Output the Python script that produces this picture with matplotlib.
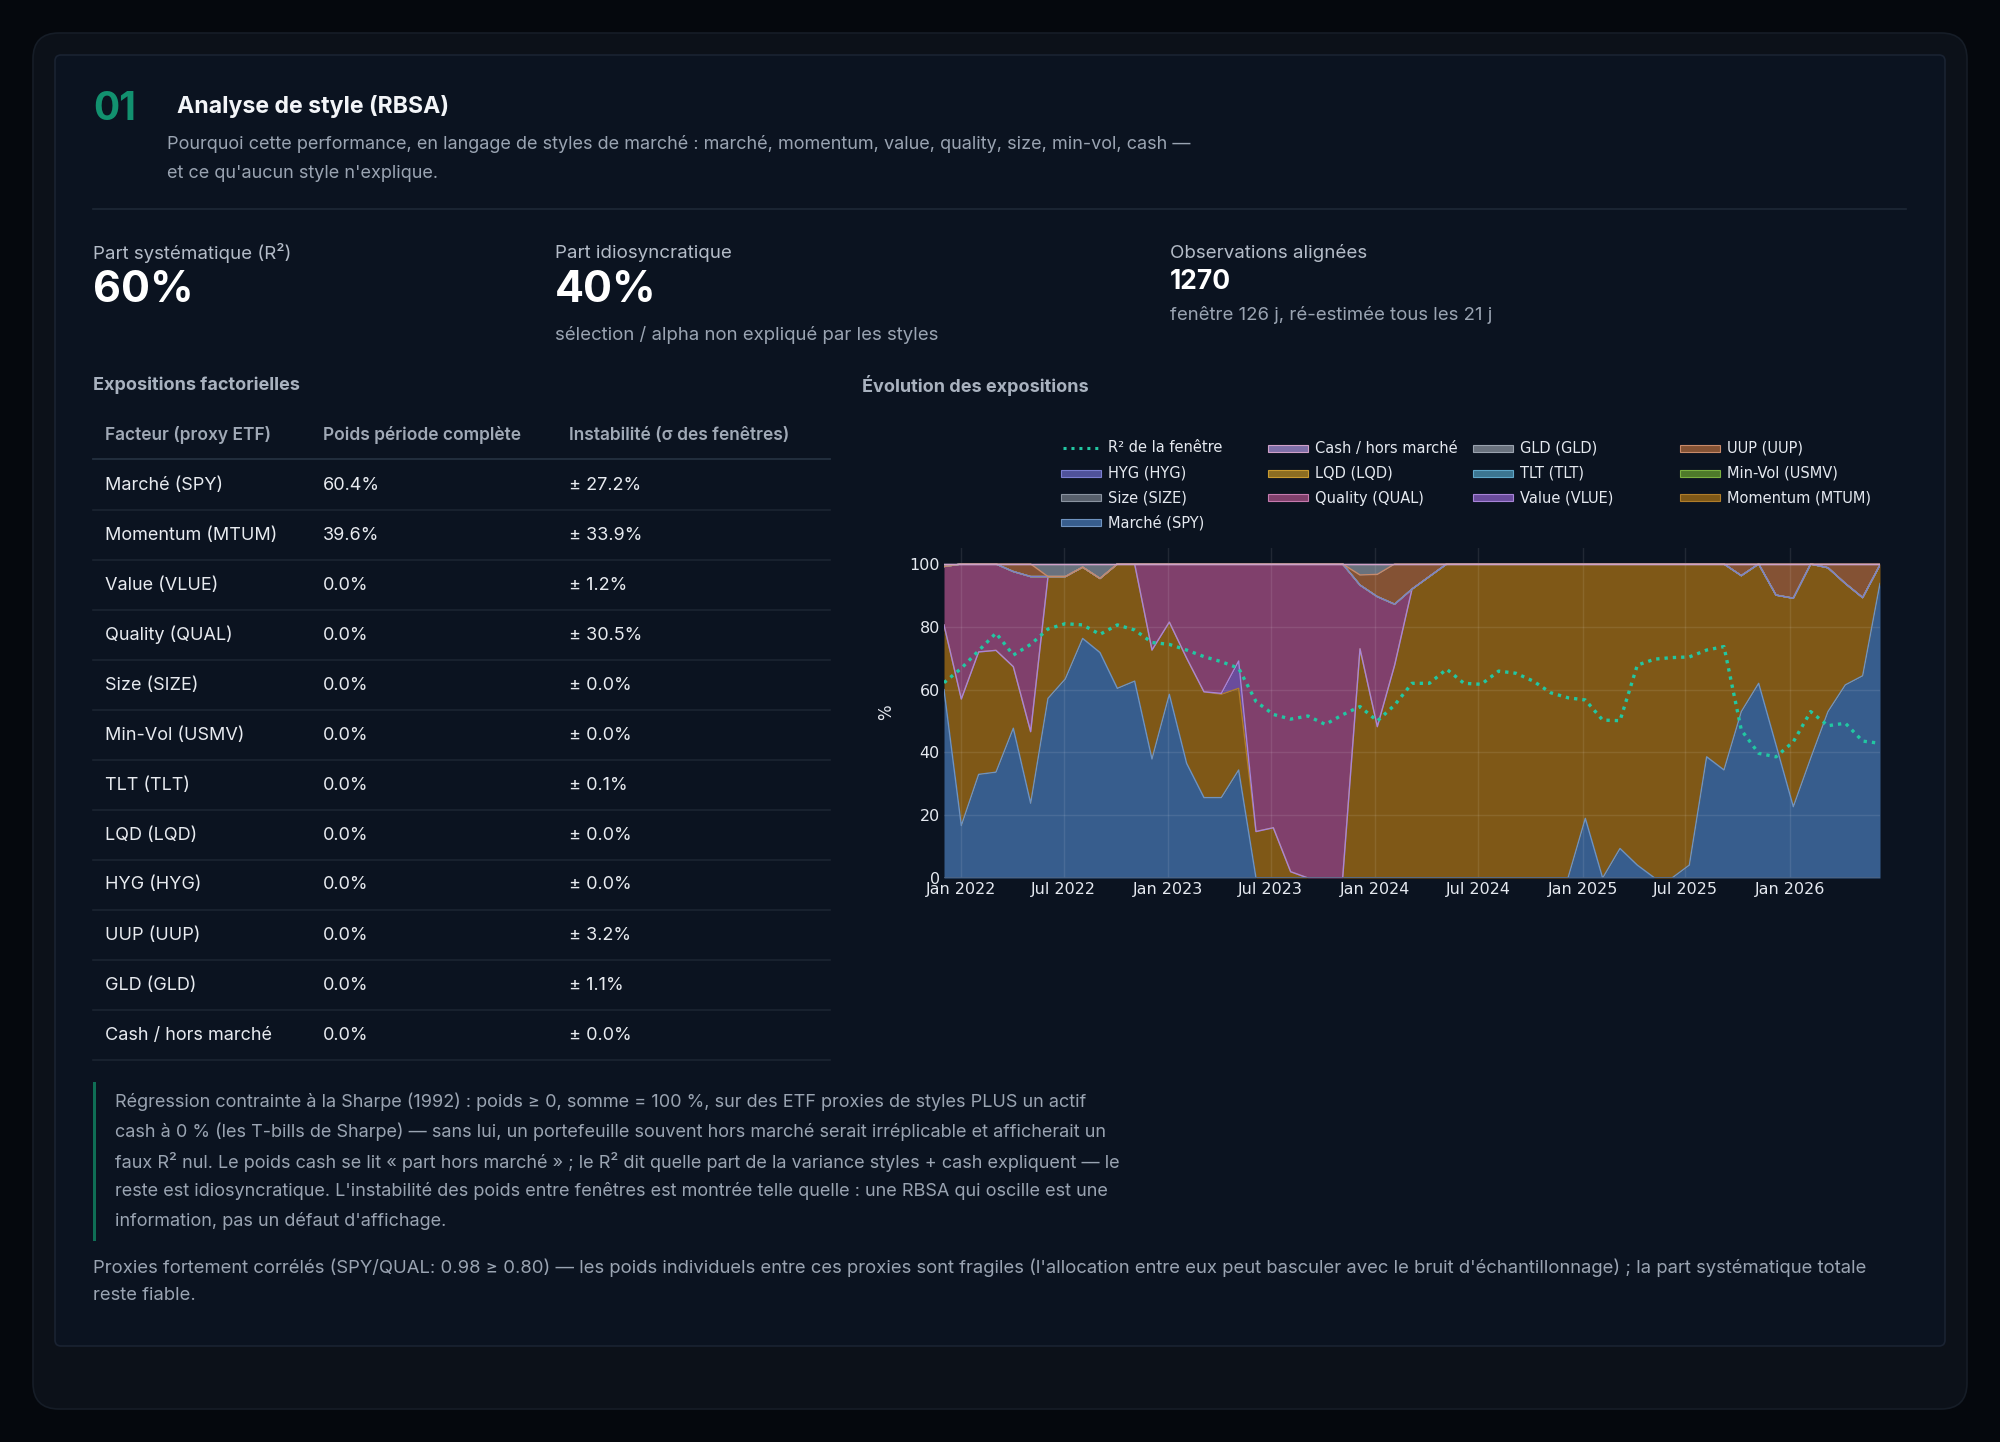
"""
RBSA style-analysis card: factor table + stacked exposure chart.
"""

import matplotlib
matplotlib.use("Agg")
import matplotlib.pyplot as plt
from matplotlib.patches import FancyBboxPatch, Rectangle
from matplotlib.lines import Line2D
import numpy as np
import pandas as pd

W, H = 2000, 1442

# ---------------------------------------------------------------------------
# Data
# ---------------------------------------------------------------------------

FACTORS = [
    "Marché (SPY)", "Momentum (MTUM)", "Value (VLUE)", "Quality (QUAL)",
    "Size (SIZE)", "Min-Vol (USMV)", "TLT (TLT)", "LQD (LQD)", "HYG (HYG)",
    "UUP (UUP)", "GLD (GLD)", "Cash / hors marché",
]
FULL_WEIGHT = [60.4, 39.6, 0.0, 0.0, 0.0, 0.0, 0.0, 0.0, 0.0, 0.0, 0.0, 0.0]
INSTABILITY = [27.2, 33.9, 1.2, 30.5, 0.0, 0.0, 0.1, 0.0, 0.0, 3.2, 1.1, 0.0]

R2_FULL = 60
IDIO = 40
N_OBS = 1270

# rolling windows (126 j, every 21 j)
WIN_START = "2021-12-02"
WIN_END = "2026-06-09"

SPY = [60.0, 16.7, 33.0, 33.7, 47.7, 23.8, 57.2, 63.4, 76.3, 71.8,
       60.4, 62.7, 37.9, 58.5, 36.5, 25.6, 25.6, 34.4, 0.0, 0.0,
       0.0, 0.0, 0.0, 0.0, 0.0, 0.0, 0.0, 0.0, 0.0, 0.0,
       0.0, 0.0, 0.0, 0.0, 0.0, 0.0, 0.0, 19.0, 0.0, 9.4,
       4.1, 0.0, 0.0, 4.1, 38.6, 34.4, 53.0, 62.0, 42.4, 22.7,
       38.1, 53.0, 61.5, 64.4, 93.8]
MTUM = [20.6, 40.3, 39.0, 38.8, 19.6, 22.8, 38.8, 32.6, 22.7, 23.6,
        39.6, 37.3, 34.7, 23.0, 33.5, 33.7, 32.9, 26.0, 14.8, 16.0,
        2.0, 0.0, 0.0, 0.0, 73.0, 48.2, 67.8, 92.0, 96.0, 100.0,
        100.0, 100.0, 100.0, 100.0, 100.0, 100.0, 100.0, 81.0, 100.0, 90.6,
        95.9, 100.0, 100.0, 95.9, 61.4, 65.6, 43.3, 38.0, 47.7, 66.4,
        61.9, 45.8, 32.3, 24.9, 5.9]
VLUE = [0.0, 0.0, 0.0, 0.0, 0.0, 0.0, 0.0, 0.0, 0.0, 0.0,
        0.0, 0.0, 0.0, 0.0, 0.0, 0.0, 0.3, 8.7, 0.0, 0.0,
        0.0, 0.0, 0.0, 0.0, 0.0, 0.0, 0.0, 0.0, 0.0, 0.0,
        0.0, 0.0, 0.0, 0.0, 0.0, 0.0, 0.0, 0.0, 0.0, 0.0,
        0.0, 0.0, 0.0, 0.0, 0.0, 0.0, 0.0, 0.0, 0.0, 0.0,
        0.0, 0.0, 0.0, 0.0, 0.0]
QUAL = [18.6, 43.0, 28.0, 27.5, 30.3, 49.4, 0.0, 0.0, 0.0, 0.0,
        0.0, 0.0, 27.4, 18.5, 30.0, 40.7, 41.2, 30.9, 85.2, 84.0,
        98.0, 100.0, 100.0, 100.0, 20.3, 41.4, 19.4, 0.0, 0.0, 0.0,
        0.0, 0.0, 0.0, 0.0, 0.0, 0.0, 0.0, 0.0, 0.0, 0.0,
        0.0, 0.0, 0.0, 0.0, 0.0, 0.0, 0.0, 0.0, 0.0, 0.0,
        0.0, 0.0, 0.0, 0.0, 0.0]
UUP = [0.0, 0.0, 0.0, 0.0, 2.4, 4.0, 0.0, 0.0, 0.0, 0.0,
       0.0, 0.0, 0.0, 0.0, 0.0, 0.0, 0.0, 0.0, 0.0, 0.0,
       0.0, 0.0, 0.0, 0.0, 3.2, 7.1, 12.8, 8.0, 4.0, 0.0,
       0.0, 0.0, 0.0, 0.0, 0.0, 0.0, 0.0, 0.0, 0.0, 0.0,
       0.0, 0.0, 0.0, 0.0, 0.0, 0.0, 3.7, 0.0, 9.9, 10.9,
       0.0, 1.2, 6.2, 10.7, 0.3]
GLD = [0.8, 0.0, 0.0, 0.0, 0.0, 0.0, 4.0, 4.0, 1.0, 4.6,
       0.0, 0.0, 0.0, 0.0, 0.0, 0.0, 0.0, 0.0, 0.0, 0.0,
       0.0, 0.0, 0.0, 0.0, 3.5, 3.3, 0.0, 0.0, 0.0, 0.0,
       0.0, 0.0, 0.0, 0.0, 0.0, 0.0, 0.0, 0.0, 0.0, 0.0,
       0.0, 0.0, 0.0, 0.0, 0.0, 0.0, 0.0, 0.0, 0.0, 0.0,
       0.0, 0.0, 0.0, 0.0, 0.0]
ZERO = [0.0] * len(SPY)   # SIZE, USMV, TLT, LQD, HYG, cash: never used

R2_WINDOW = [62.2, 66.8, 72.4, 78.0, 71.0, 74.4, 79.3, 81.0, 80.6, 77.6,
             80.6, 79.0, 75.0, 74.4, 72.6, 70.5, 68.9, 66.8, 56.2, 52.1,
             50.6, 51.6, 48.9, 52.0, 54.6, 50.0, 55.1, 62.0, 62.0, 66.5,
             62.0, 61.7, 65.9, 65.2, 62.7, 59.0, 57.4, 56.7, 50.3, 50.1,
             67.8, 69.7, 70.2, 70.4, 72.6, 73.7, 47.1, 39.7, 38.6, 43.4,
             53.0, 48.5, 49.3, 43.6, 42.9]

TICK_DATES = ["2022-01-01", "2022-07-01", "2023-01-01", "2023-07-01",
              "2024-01-01", "2024-07-01", "2025-01-01", "2025-07-01",
              "2026-01-01"]
TICK_LABELS = ["Jan 2022", "Jul 2022", "Jan 2023", "Jul 2023", "Jan 2024",
               "Jul 2024", "Jan 2025", "Jul 2025", "Jan 2026"]

# (legend label, values, fill, edge) -- stacking order, bottom first
STACK = [
    ("Marché (SPY)",       SPY,  "#375d8d", "#6f93c0"),
    ("Momentum (MTUM)",    MTUM, "#7f5817", "#b07d2a"),
    ("Value (VLUE)",       VLUE, "#6a4c9c", "#a884d8"),
    ("Quality (QUAL)",     QUAL, "#80406c", "#c67aae"),
    ("Size (SIZE)",        ZERO, "#575f6b", "#8a93a0"),
    ("Min-Vol (USMV)",     ZERO, "#4e7a2a", "#79b040"),
    ("TLT (TLT)",          ZERO, "#3c7590", "#5fa6c8"),
    ("LQD (LQD)",          ZERO, "#8c6d22", "#c89a30"),
    ("HYG (HYG)",          ZERO, "#4f529a", "#7a7ed0"),
    ("UUP (UUP)",          UUP,  "#845234", "#c88a6a"),
    ("GLD (GLD)",          GLD,  "#69717d", "#9aa2ae"),
    ("Cash / hors marché", ZERO, "#7e6fa8", "#d0a0c8"),
]
R2_COLOR = "#22c7a2"

# ---------------------------------------------------------------------------
# Helpers (pixel coordinates, origin top-left)
# ---------------------------------------------------------------------------

SANS = ["Inter", "DejaVu Sans"]


def fx(px):
    return px / W


def fy(py):
    return 1 - py / H


def put(fig, x, y, s, size, color, weight="normal", ha="left", va="center",
        family=None, **kw):
    fig.text(fx(x), fy(y), s, fontsize=size, color=color, fontweight=weight,
             ha=ha, va=va, family=family or SANS, **kw)


def box(fig, x0, y0, x1, y1, radius, face, edge, lw=1.2, z=-10):
    p = FancyBboxPatch((fx(x0), fy(y1)), fx(x1) - fx(x0), fy(y0) - fy(y1),
                       boxstyle=f"round,pad=0,rounding_size={radius / W}",
                       mutation_aspect=W / H, transform=fig.transFigure,
                       facecolor=face, edgecolor=edge, linewidth=lw, zorder=z)
    fig.patches.append(p)


def hline(fig, x0, x1, y, color, lw=1.0):
    fig.add_artist(Line2D([fx(x0), fx(x1)], [fy(y), fy(y)], color=color,
                          lw=lw, transform=fig.transFigure, zorder=2))


# ---------------------------------------------------------------------------
# Card text
# ---------------------------------------------------------------------------

def draw_header(fig):
    put(fig, 93, 110, "01", 28, "#12916f", weight="bold")
    put(fig, 177, 106, "Analyse de style (RBSA)", 16.6, "#f3f5f8", weight="bold")
    put(fig, 167, 144, "Pourquoi cette performance, en langage de styles de "
        "marché : marché, momentum, value, quality, size, min-vol, cash —",
        13, "#9aa4b2")
    put(fig, 167, 173, "et ce qu'aucun style n'explique.", 13, "#9aa4b2")
    hline(fig, 93, 1906, 209, "#1e2836", lw=1.2)

    # KPIs
    put(fig, 93, 253, "Part systématique (R²)", 13.5, "#b4bcc8")
    put(fig, 93, 291, f"{R2_FULL}%", 31, "#ffffff", weight="bold")
    put(fig, 555, 253, "Part idiosyncratique", 13.5, "#b4bcc8")
    put(fig, 555, 291, f"{IDIO}%", 31, "#ffffff", weight="bold")
    put(fig, 555, 335, "sélection / alpha non expliqué par les styles", 13.4,
        "#9aa4b2")
    put(fig, 1170, 253, "Observations alignées", 13.5, "#b4bcc8")
    put(fig, 1170, 282, f"{N_OBS}", 19, "#ffffff", weight="bold")
    put(fig, 1170, 315, "fenêtre 126 j, ré-estimée tous les 21 j", 13.4,
        "#9aa4b2")

    put(fig, 93, 385, "Expositions factorielles", 13, "#a9b2bf", weight="bold")
    put(fig, 862, 385, "Évolution des expositions", 13, "#a9b2bf",
        weight="bold")


def draw_table(fig):
    cols = [105, 323, 569]
    put(fig, cols[0], 435, "Facteur (proxy ETF)", 12.5, "#a0a9b6",
        weight="semibold")
    put(fig, cols[1], 435, "Poids période complète", 12.5, "#a0a9b6",
        weight="semibold")
    put(fig, cols[2], 435, "Instabilité (σ des fenêtres)", 12.5, "#a0a9b6",
        weight="semibold")
    hline(fig, 93, 830, 459, "#243040", lw=1.3)

    for k, (name, w, s) in enumerate(zip(FACTORS, FULL_WEIGHT, INSTABILITY)):
        y = 485 + 50 * k
        put(fig, cols[0], y, name, 13, "#e8ebf0")
        put(fig, cols[1], y, f"{w:.1f}%", 13, "#e8ebf0")
        put(fig, cols[2], y, f"± {s:.1f}%", 13, "#e8ebf0")
        hline(fig, 93, 830, y + 25, "#1b2431", lw=1.2)


def draw_notes(fig):
    fig.add_artist(Rectangle((fx(93), fy(1241)), 3 / W, (1241 - 1082) / H,
                             transform=fig.transFigure, color="#0f6e55",
                             lw=0, zorder=2))
    lines = [
        "Régression contrainte à la Sharpe (1992) : poids ≥ 0, somme = 100 %, "
        "sur des ETF proxies de styles PLUS un actif",
        "cash à 0 % (les T-bills de Sharpe) — sans lui, un portefeuille souvent "
        "hors marché serait irréplicable et afficherait un",
        "faux R² nul. Le poids cash se lit « part hors marché » ; le R² dit "
        "quelle part de la variance styles + cash expliquent — le",
        "reste est idiosyncratique. L'instabilité des poids entre fenêtres est "
        "montrée telle quelle : une RBSA qui oscille est une",
        "information, pas un défaut d'affichage.",
    ]
    for k, s in enumerate(lines):
        put(fig, 115, 1102 + 29.8 * k, s, 13, "#9aa4b2")

    put(fig, 93, 1268, "Proxies fortement corrélés (SPY/QUAL: 0.98 ≥ 0.80) — "
        "les poids individuels entre ces proxies sont fragiles (l'allocation "
        "entre eux peut basculer avec le bruit d'échantillonnage) ; la part "
        "systématique totale", 13.3, "#9aa4b2")
    put(fig, 93, 1296, "reste fiable.", 13.3, "#9aa4b2")


# ---------------------------------------------------------------------------
# Chart
# ---------------------------------------------------------------------------

def draw_legend(fig):
    entries = [("R² de la fenêtre", None, None)]
    entries += [(lab, fill, edge) for lab, _, fill, edge in reversed(STACK)]
    sym_x = [1061, 1268, 1473, 1680]
    row_y = [448, 473, 498, 523]
    for k, (lab, fill, edge) in enumerate(entries):
        x0 = sym_x[k % 4]
        y0 = row_y[k // 4]
        if fill is None:
            fig.add_artist(Line2D([fx(x0 + 2), fx(x0 + 38)], [fy(y0), fy(y0)],
                                  color=R2_COLOR, lw=2.2,
                                  linestyle=(0, (1, 1.6)),
                                  transform=fig.transFigure, zorder=3))
        else:
            fig.add_artist(Rectangle((fx(x0), fy(y0 + 3.5)), 40 / W, 7 / H,
                                     transform=fig.transFigure,
                                     facecolor=fill, edgecolor=edge, lw=0.8,
                                     zorder=3))
        put(fig, x0 + 47, y0, lab, 10.5, "#e5e9f0", family="DejaVu Sans")


def draw_chart(fig):
    ax = fig.add_axes([fx(944), fy(878), fx(1880) - fx(944), (878 - 548) / H])
    ax.set_zorder(5)
    ax.set_facecolor("none")
    dates = pd.date_range(WIN_START, WIN_END, periods=len(SPY))

    base = np.zeros(len(SPY))
    for lab, vals, fill, edge in STACK:
        top = base + np.asarray(vals)
        ax.fill_between(dates, base, top, color=fill, lw=0, zorder=1)
        base = top
    base = np.zeros(len(SPY))
    for lab, vals, fill, edge in STACK:
        top = base + np.asarray(vals)
        ax.plot(dates, top, color=edge, lw=1.0, zorder=3)
        base = top

    ax.plot(dates, R2_WINDOW, color=R2_COLOR, lw=2.4,
            linestyle=(0, (1, 1.5)), zorder=6)
    ax.axhline(0, color="#4f6380", lw=1.8, zorder=4)

    ax.set_xlim(dates[0], dates[-1])
    ax.set_ylim(0, 105.1)
    ax.set_yticks([0, 20, 40, 60, 80, 100])
    ax.set_xticks(pd.to_datetime(TICK_DATES))
    ax.set_xticklabels(TICK_LABELS)
    ax.tick_params(length=0, labelsize=11.5, colors="#e5e9f0", pad=3)
    for t in ax.get_xticklabels() + ax.get_yticklabels():
        t.set_family("DejaVu Sans")
    ax.set_axisbelow(False)
    ax.grid(color="#ffffff", alpha=0.09, lw=1.0)
    for sp in ax.spines.values():
        sp.set_visible(False)

    put(fig, 877, 712, "%", 12, "#e5e9f0", rotation=90, family="DejaVu Sans")


# ---------------------------------------------------------------------------
# Main
# ---------------------------------------------------------------------------

def main():
    fig = plt.figure(figsize=(W / 100, H / 100), dpi=100)
    fig.patch.set_facecolor("#05080d")

    box(fig, 33, 33, 1967, 1409, 26, "#0c1119", "#161d27", lw=1.2, z=-20)
    box(fig, 55, 55, 1945, 1346, 6, "#0b1320", "#1a2332", lw=1.2, z=-10)

    draw_header(fig)
    draw_table(fig)
    draw_notes(fig)
    draw_legend(fig)
    draw_chart(fig)

    fig.savefig("out.png", dpi=100, facecolor=fig.get_facecolor())
    plt.close(fig)


if __name__ == "__main__":
    main()
